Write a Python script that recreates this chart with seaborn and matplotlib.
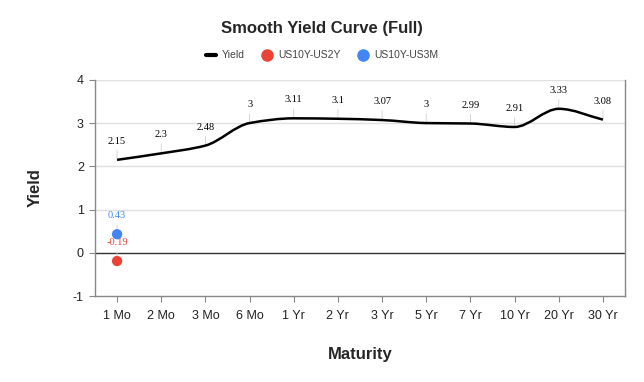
import numpy as np
import matplotlib
matplotlib.use('Agg')
import matplotlib.pyplot as plt
from matplotlib.path import Path
from matplotlib.patches import PathPatch
from matplotlib.lines import Line2D
import seaborn as sns

maturities = ['1 Mo', '2 Mo', '3 Mo', '6 Mo', '1 Yr', '2 Yr', '3 Yr', '5 Yr', '7 Yr', '10 Yr', '20 Yr', '30 Yr']
yields = [2.15, 2.3, 2.48, 3.0, 3.11, 3.1, 3.07, 3.0, 2.99, 2.91, 3.33, 3.08]
spread_2y = -0.19
spread_3m = 0.43

red = '#EA4335'
blue = '#4285F4'

sns.set_style('white')
plt.rcParams['font.family'] = ['Liberation Sans', 'DejaVu Sans']
plt.rcParams['axes.unicode_minus'] = False

fig = plt.figure(figsize=(6.44, 3.82), dpi=100)
ax = fig.add_axes([0.1475, 0.225, 0.823, 0.566])

x = np.arange(len(maturities))
y = np.array(yields)

# monotone cubic tangents -> bezier control points for the smooth line
d = np.diff(y)
m = np.zeros(len(y))
m[0], m[-1] = d[0], d[-1]
for i in range(1, len(y) - 1):
    if d[i - 1] * d[i] > 0:
        m[i] = 2 / (1 / d[i - 1] + 1 / d[i])
verts = [(x[0], y[0])]
codes = [Path.MOVETO]
for i in range(len(y) - 1):
    verts += [(x[i] + 1 / 3, y[i] + m[i] / 3), (x[i + 1] - 1 / 3, y[i + 1] - m[i + 1] / 3), (x[i + 1], y[i + 1])]
    codes += [Path.CURVE4] * 3
ax.add_patch(PathPatch(Path(verts, codes), fill=False, edgecolor='black', lw=1.8, zorder=4))

sns.scatterplot(x=[0], y=[spread_2y], color=red, s=55, edgecolor='none', ax=ax, zorder=5)
sns.scatterplot(x=[0], y=[spread_3m], color=blue, s=55, edgecolor='none', ax=ax, zorder=5)

def label(xv, yv, txt, col):
    ax.annotate(txt, (xv, yv), xytext=(0, 10), textcoords='offset points', ha='center', va='bottom',
                fontsize=7.5, color=col, family='Liberation Serif',
                arrowprops=dict(arrowstyle='-', color='#d0d0d0', lw=0.6, shrinkA=1, shrinkB=0), zorder=3)

for xi, yi in zip(x, yields):
    label(xi, yi, f'{yi:g}', 'black')
label(0, spread_2y, f'{spread_2y:g}', red)
label(0, spread_3m, f'{spread_3m:g}', blue)

ax.set_xlim(-0.5, len(maturities) - 0.5)
ax.set_ylim(-1, 4)
ax.set_yticks([-1, 0, 1, 2, 3, 4])
ax.set_xticks(x)
ax.set_xticklabels(maturities)
for g in [1, 2, 3, 4]:
    ax.axhline(g, color='#e0e0e0', lw=1, zorder=1)
ax.axhline(0, color='#333333', lw=1, zorder=2)
for s in ['left', 'bottom', 'right']:
    ax.spines[s].set_color('#888888')
    ax.spines[s].set_linewidth(1)
ax.spines['top'].set_visible(False)
ax.tick_params(axis='both', length=4, width=0.8, color='#888888', labelsize=9, labelcolor='#222222', pad=4,
               bottom=True, left=True)
ax.tick_params(axis='x', pad=6)

ax.set_xlabel('Maturity', fontsize=12, fontweight='bold', labelpad=18)
ax.set_ylabel('Yield', fontsize=12, fontweight='bold', labelpad=22)
fig.text(0.5, 0.925, 'Smooth Yield Curve (Full)', ha='center', va='center', fontsize=12, fontweight='bold')

handles = [Line2D([], [], color='black', lw=3),
           Line2D([], [], marker='o', ls='', color=red, markersize=8),
           Line2D([], [], marker='o', ls='', color=blue, markersize=8)]
fig.legend(handles, ['Yield', 'US10Y-US2Y', 'US10Y-US3M'], loc='center', bbox_to_anchor=(0.5, 0.855), ncol=3,
           frameon=False, fontsize=7.5, handlelength=1.0, handletextpad=0.6, columnspacing=1.6,
           labelcolor='#444444')

fig.savefig('out.png', dpi=100)
